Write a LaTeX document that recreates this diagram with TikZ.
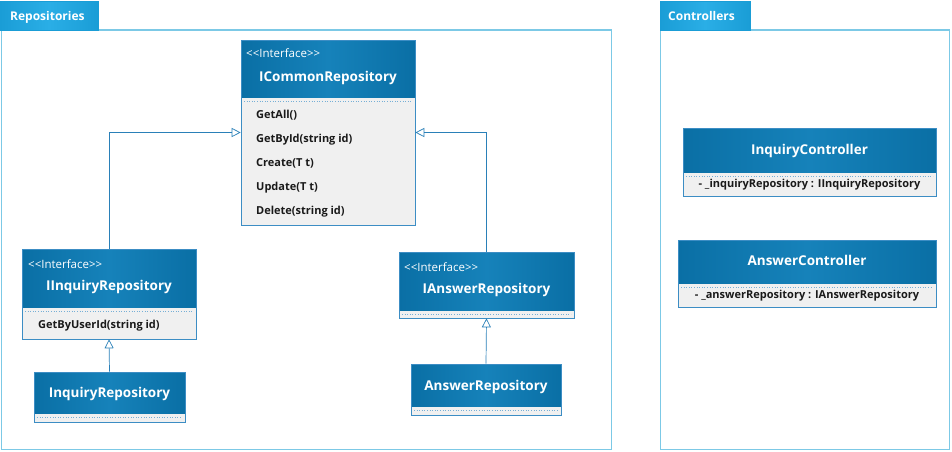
\documentclass[tikz,border=0pt]{standalone}
\usepackage{fontspec}
\setmainfont{Open Sans}
\usetikzlibrary{arrows.meta,fit}
\definecolor{hdrc}{HTML}{0A6FA5}
\definecolor{hdrm}{HTML}{1682BA}
\definecolor{bodyc}{HTML}{F0F0F0}
\definecolor{brd}{HTML}{3C8DC4}
\definecolor{conn}{HTML}{2A80B8}
\definecolor{tabc}{HTML}{1A9DD6}
\definecolor{tabm}{HTML}{2AAEE6}
\definecolor{frm}{HTML}{7CC9E6}
\definecolor{txt}{HTML}{1A1A1A}
\tikzset{
  clsbox/.style={draw=brd, fill=bodyc, line width=0.6pt, inner sep=0pt, rectangle},
  hdrfill/.style={left color=hdrc, right color=hdrc, middle color=hdrm},
  sep/.style={draw=brd!70, dotted, line width=0.6pt},
  stereo/.style={text=white, font=\fontsize{11.5}{13}\selectfont, anchor=mid west, inner sep=0pt, yshift=-3pt},
  cname/.style={text=white, font=\fontsize{13.5}{15}\selectfont\bfseries, anchor=mid, inner sep=0pt, yshift=-2pt},
  member/.style={text=txt, font=\fontsize{11}{13}\selectfont\bfseries, anchor=mid west, inner sep=0pt, yshift=-2pt},
  attr/.style={text=txt, font=\fontsize{11}{13}\selectfont\bfseries, anchor=mid, inner sep=0pt, yshift=-2pt},
  pkgframe/.style={draw=frm, line width=1.4pt},
  pkgtab/.style={left color=tabc, right color=tabc, middle color=tabm, draw=tabc, line width=0.5pt, inner sep=0pt},
  pkgtitle/.style={text=white, font=\fontsize{12}{14}\selectfont\bfseries, anchor=mid west, inner sep=0pt, yshift=-2pt},
  inherit/.style={draw=conn, line width=0.7pt, -{Triangle[open, length=9pt, width=9pt, fill=white]}},
}
% name, x1, y1, x2, y2, header bottom
\newcommand{\umlcls}[6]{%
  \node[clsbox, fit={(#2,#3) (#4,#5)}] (#1) {};
  \fill[hdrfill] (#2,#3) rectangle (#4,#6);
  \draw[sep] (#2+3,#6+4) -- (#4-3,#6+4);
  \draw[draw=brd, line width=0.6pt] (#2,#3) rectangle (#4,#5);
}
\newcommand{\stereotext}{{<}{<}Interface{>}{>}}
\begin{document}
\begin{tikzpicture}[x=1pt,y=-1pt]
\useasboundingbox (0,0) rectangle (952,451);
% packages
\draw[pkgframe] (1.5,30) rectangle (611.5,449.5);
\node[pkgtab, fit={(0,1.5) (98,30)}] (tabrepo) {};
\node[pkgtitle] (trepo) at (10,16) {Repositories};
\draw[pkgframe] (660.5,30) rectangle (949.5,449.5);
\node[pkgtab, fit={(660,1.5) (750,30)}] (tabctrl) {};
\node[pkgtitle] (tctrl) at (668,16) {Controllers};

% ICommonRepository
\umlcls{icommon}{241}{40}{415}{225}{97}
\node[stereo] (s1) at (246,52) {\stereotext};
\node[cname] (n1) at (328,77) {ICommonRepository};
\node[member] (m11) at (256,114) {GetAll()};
\node[member] (m12) at (256,138) {GetById(string id)};
\node[member] (m13) at (256,162) {Create(T t)};
\node[member] (m14) at (256,186) {Update(T t)};
\node[member] (m15) at (256,210) {Delete(string id)};

% IInquiryRepository
\umlcls{iinq}{22}{249}{196}{339}{307}
\node[stereo] (s2) at (28,263) {\stereotext};
\node[cname] (n2) at (109,286) {IInquiryRepository};
\node[member] (m21) at (38,324) {GetByUserId(string id)};

% InquiryRepository
\umlcls{inq}{34}{372}{185}{422}{413}
\node[cname] (n3) at (109.5,393) {InquiryRepository};

% IAnswerRepository
\umlcls{ians}{399}{252}{574}{318}{310}
\node[stereo] (s4) at (404,266) {\stereotext};
\node[cname] (n4) at (486.5,289) {IAnswerRepository};

% AnswerRepository
\umlcls{ans}{411}{364}{561}{415}{406}
\node[cname] (n5) at (486,386) {AnswerRepository};

% InquiryController
\umlcls{inqc}{683}{128}{936}{196}{172}
\node[cname] (n6) at (809.5,150) {InquiryController};
\node[attr] (a6) at (809.5,183) {- \_inquiryRepository : IInquiryRepository};

% AnswerController
\umlcls{ansc}{678}{240}{936}{307}{283}
\node[cname] (n7) at (807,261) {AnswerController};
\node[attr] (a7) at (807,294) {- \_answerRepository : IAnswerRepository};

% inheritance connectors
\draw[inherit] (iinq.north) |- (icommon.west);
\draw[inherit] (ians.north) |- (icommon.east);
\draw[inherit] (inq.north) -- (iinq.south);
\draw[inherit] (ans.north) -- (ians.south);
\end{tikzpicture}
\end{document}
